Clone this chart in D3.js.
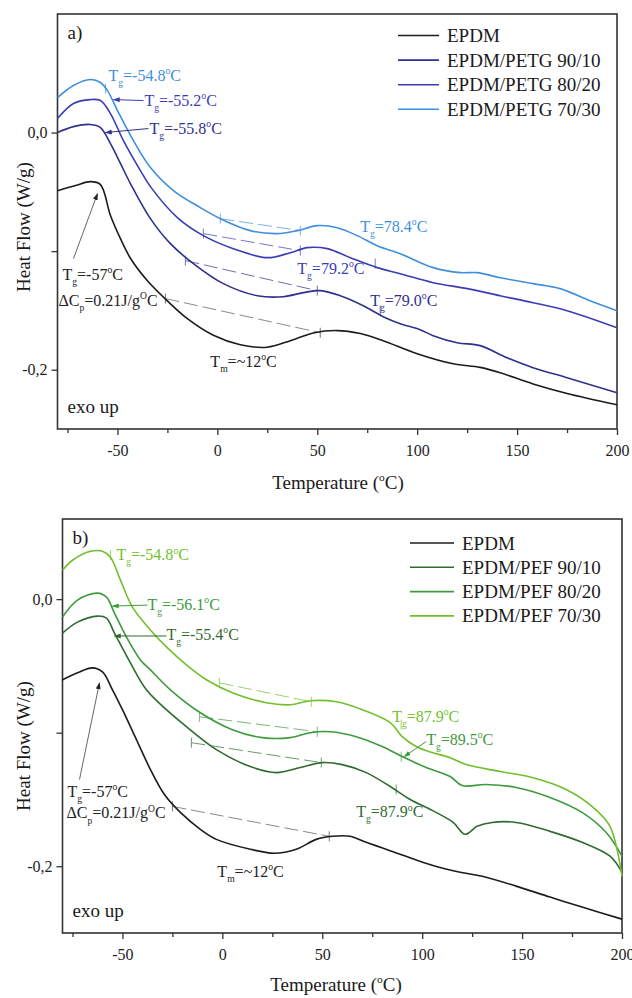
<!DOCTYPE html>
<html lang="en">
<head>
<meta charset="UTF-8">
<title>DSC EPDM blends</title>
<script src="https://cdn.jsdelivr.net/npm/d3@7"></script>
<style>
    body { margin: 0; background: #fff; }
    text { font-family: "Liberation Serif", "Times New Roman", serif; }
</style>
</head>
<body>
<svg width="632" height="998"></svg>
<script>
// axis ticks
const xTicks = [-50, 0, 50, 100, 150, 200];
const xMinor = [-75, -25, 25, 75, 125, 175];
const yTicks = [-0.2, -0.1, 0.0];
const yLabeled = [-0.2, 0.0];

// panel a) EPDM / PETG   [temperature °C, heat flow W/g]
const namesA = ["EPDM", "EPDM/PETG 90/10", "EPDM/PETG 80/20", "EPDM/PETG 70/30"];
const colorsA = ["#1c1c1c", "#30308f", "#3c3cb4", "#3f8fde"];
const epdmA = [[-80,-0.049],[-71,-0.0447],[-63.5,-0.0414],[-58.5,-0.0439],[-53.5,-0.070],[-48.5,-0.0895],[-43.5,-0.106],[-35,-0.125],[-25,-0.142],[-15,-0.157],[-2,-0.171],[11.5,-0.179],[25,-0.181],[36.5,-0.1755],[48,-0.169],[60,-0.167],[71.5,-0.1695],[83,-0.1755],[100,-0.1865],[118,-0.195],[131.5,-0.198],[141.5,-0.2025],[158,-0.212],[175,-0.220],[200,-0.2295]];
const petg9010 = [[-80,0],[-72,0.005],[-63.5,0.0068],[-58.5,0.0042],[-53.5,-0.0093],[-48.5,-0.026],[-43.5,-0.043],[-33.5,-0.0726],[-23.5,-0.0937],[-12,-0.1105],[3,-0.1274],[20,-0.1376],[33,-0.1384],[43,-0.135],[51.5,-0.1333],[61.5,-0.1376],[73,-0.146],[83,-0.1553],[91.5,-0.1612],[101.5,-0.1662],[108,-0.1713],[120,-0.1772],[131.5,-0.1797],[145,-0.19],[158,-0.1983],[175,-0.2068],[200,-0.2194]];
const petg8020 = [[-80,0.0118],[-72,0.0245],[-63.5,0.0278],[-58.5,0.027],[-53.5,0.016],[-47,-0.0068],[-38.5,-0.0321],[-33.5,-0.0456],[-20,-0.0717],[-7,-0.0869],[8,-0.0979],[25,-0.1055],[36.5,-0.1013],[45,-0.097],[55,-0.0979],[66.5,-0.1055],[80,-0.1139],[91.5,-0.119],[108,-0.1266],[125,-0.1316],[141.5,-0.1376],[158,-0.1435],[175,-0.1502],[200,-0.1646]];
const petg7030 = [[-80,0.0295],[-72,0.0397],[-63.5,0.0447],[-58.5,0.0422],[-55,0.0354],[-50,0.0186],[-42,-0.0068],[-33.5,-0.0295],[-22,-0.0489],[-8.5,-0.0633],[1.5,-0.0726],[16.5,-0.0827],[30,-0.0852],[40,-0.0827],[50,-0.0785],[60,-0.0802],[70,-0.0869],[80,-0.0954],[91.5,-0.1021],[108,-0.1139],[121.5,-0.1181],[130,-0.1181],[141.5,-0.1224],[158,-0.1274],[171.5,-0.1316],[186.5,-0.1418],[200,-0.1502]];

// panel b) EPDM / PEF
const namesB = ["EPDM", "EPDM/PEF 90/10", "EPDM/PEF 80/20", "EPDM/PEF 70/30"];
const colorsB = ["#1c1c1c", "#2f6b30", "#3e9a3c", "#72bf2e"];
const epdmB = [[-80,-0.0604],[-72.5,-0.0552],[-65,-0.0515],[-60,-0.0545],[-55,-0.0679],[-50,-0.0828],[-43,-0.1052],[-36,-0.1276],[-29,-0.1463],[-21,-0.1597],[-11,-0.1724],[-3,-0.1799],[14,-0.1873],[26,-0.1903],[37,-0.1873],[47,-0.1799],[55,-0.1776],[64,-0.1776],[72,-0.1821],[89,-0.191],[105,-0.1993],[119,-0.2045],[130,-0.2075],[147,-0.2149],[164,-0.2231],[180,-0.2306],[200,-0.2396]];
const pef9010 = [[-80,-0.0254],[-72.5,-0.0172],[-62.5,-0.0127],[-58,-0.0142],[-54,-0.0254],[-46,-0.0478],[-38,-0.0679],[-28,-0.0828],[-18,-0.0955],[-3,-0.1127],[14,-0.1254],[27,-0.1299],[39,-0.1261],[50,-0.1224],[60,-0.1239],[72,-0.1299],[84,-0.1403],[94,-0.15],[105,-0.1582],[115.5,-0.1672],[121.5,-0.1761],[127.5,-0.1701],[135,-0.1672],[147,-0.1672],[164,-0.1739],[180,-0.1821],[194,-0.1925],[200,-0.2045]];
const pef8020 = [[-80,-0.0134],[-72.5,-0.0007],[-62.5,0.0045],[-58,0.0015],[-54,-0.0104],[-48,-0.0284],[-41,-0.0455],[-36,-0.053],[-26,-0.0679],[-11,-0.0851],[5,-0.0978],[20,-0.1037],[34,-0.1037],[44,-0.1],[54,-0.0993],[67,-0.103],[80,-0.1104],[90,-0.1179],[102,-0.1261],[114,-0.1328],[120,-0.1396],[132,-0.1388],[147,-0.141],[164,-0.1485],[180,-0.1597],[192,-0.1746],[200,-0.1925]];
const pef7030 = [[-80,0.0216],[-75,0.0291],[-66,0.0358],[-60,0.0358],[-56,0.0313],[-51,0.0142],[-45,-0.006],[-36,-0.0231],[-28,-0.0358],[-18,-0.0493],[-8,-0.0604],[5,-0.0701],[22,-0.0776],[34,-0.0791],[44,-0.0761],[57,-0.0769],[70,-0.0828],[84,-0.0925],[90,-0.103],[97,-0.1104],[105,-0.1149],[114,-0.1187],[122,-0.1239],[139,-0.1291],[155,-0.1336],[172,-0.1425],[185,-0.1552],[194,-0.1701],[200,-0.2075]];

// annotations (s = series index), in data units
const tangentsA = [
    {s: 3, t1: 1.5, v1: -0.0726, t2: 41.5, v2: -0.0827},
    {s: 2, t1: -7, v1: -0.0852, t2: 41.5, v2: -0.0996},
    {s: 1, t1: -16, v1: -0.108, t2: 50, v2: -0.1333},
    {s: 0, t1: -26, v1: -0.140, t2: 51.5, v2: -0.1688}
];
const marksA = [{s: 2, t: 79, v: -0.1105}, {s: 1, t: 81.5, v: -0.150}, {s: 3, t: -56, v: 0.037}];
const labelsA = [
    {s: 3, t: -54.5, v: 0.0439, txt: "T_g=-54.8^oC"},
    {s: 2, t: -36.5, v: 0.0228, txt: "T_g=-55.2^oC"},
    {s: 1, t: -34, v: -0.0008, txt: "T_g=-55.8^oC"},
    {s: 0, t: -77.5, v: -0.124, txt: "T_g=-57^oC"},
    {s: 0, t: -79.5, v: -0.146, txt: "ΔC_p=0.21J/g^OC"},
    {s: 0, t: -3.5, v: -0.1975, txt: "T_m=~12^oC"},
    {s: 3, t: 71.5, v: -0.0835, txt: "T_g=78.4^oC"},
    {s: 2, t: 40, v: -0.119, txt: "T_g=79.2^oC"},
    {s: 1, t: 76.5, v: -0.146, txt: "T_g=79.0^oC"}
];
const arrowsA = [
    {s: 2, t1: -37, v1: 0.027, t2: -52, v2: 0.0278},
    {s: 1, t1: -34.5, v1: 0.0034, t2: -56, v2: 0},
    {s: 0, t1: -72, v1: -0.1063, t2: -60, v2: -0.0515}
];

const tangentsB = [
    {s: 3, t1: -1.5, v1: -0.0627, t2: 44.5, v2: -0.0769},
    {s: 2, t1: -11.5, v1: -0.0881, t2: 47.5, v2: -0.0993},
    {s: 1, t1: -15.5, v1: -0.1075, t2: 49.5, v2: -0.1224},
    {s: 0, t1: -25, v1: -0.1552, t2: 53.5, v2: -0.1776}
];
const marksB = [{s: 3, t: 89.5, v: -0.094}, {s: 2, t: 89.5, v: -0.118}, {s: 1, t: 87, v: -0.1425}, {s: 3, t: -56, v: 0.033}];
const labelsB = [
    {s: 3, t: -53, v: 0.0291, txt: "T_g=-54.8^oC"},
    {s: 2, t: -37.5, v: -0.0082, txt: "T_g=-56.1^oC"},
    {s: 1, t: -28, v: -0.0306, txt: "T_g=-55.4^oC"},
    {s: 0, t: -77.5, v: -0.1478, txt: "T_g=-57^oC"},
    {s: 0, t: -78, v: -0.1642, txt: "ΔC_p=0.21J/g^OC"},
    {s: 0, t: -2.5, v: -0.2082, txt: "T_m=~12^oC"},
    {s: 3, t: 85, v: -0.0918, txt: "T_g=87.9^oC"},
    {s: 2, t: 102, v: -0.109, txt: "T_g=89.5^oC"},
    {s: 1, t: 67, v: -0.1634, txt: "T_g=87.9^oC"}
];
const arrowsB = [
    {s: 2, t1: -37.5, v1: -0.0045, t2: -55, v2: -0.0052},
    {s: 1, t1: -28, v1: -0.0276, t2: -54, v2: -0.0276},
    {s: 0, t1: -71.5, v1: -0.1351, t2: -61.5, v2: -0.0627},
    {s: 2, t1: 102, v1: -0.1067, t2: 91, v2: -0.1179}
];

const svg = d3.select("svg");

const defs = svg.append("defs");
function arrowId(color) {
    const id = "ah" + color.replace("#", "");
    if (defs.select("#" + id).empty()) {
        defs.append("marker").attr("id", id)
            .attr("viewBox", "0 0 10 10").attr("refX", 9).attr("refY", 5)
            .attr("markerWidth", 7).attr("markerHeight", 7).attr("orient", "auto-start-reverse")
            .attr("markerUnits", "userSpaceOnUse")
            .append("path").attr("d", "M0,1.5L10,5L0,8.5z").attr("fill", color);
    }
    return "url(#" + id + ")";
}

// "_x" lowers one char, "^x" raises one char
function rich(text, str, size) {
    const segs = [];
    let buf = "";
    for (let i = 0; i < str.length; i++) {
        const c = str[i];
        if (c === "_" || c === "^") {
            if (buf) segs.push({s: buf, k: 0});
            buf = "";
            segs.push({s: str[++i], k: c === "_" ? 1 : -1});
        } else buf += c;
    }
    if (buf) segs.push({s: buf, k: 0});
    let prev = 0;
    segs.forEach(g => {
        const off = g.k === 1 ? size * 0.32 : g.k === -1 ? -size * 0.42 : 0;
        text.append("tspan").attr("dy", off - prev)
            .attr("font-size", g.k ? size * 0.6 : size).text(g.s);
        prev = off;
    });
}

function lighten(c) {
    return d3.interpolateRgb(c, "#ffffff")(0.3);
}

function drawPanel(p) {
    const x = d3.scaleLinear().domain([-80, 200]).range([p.left, p.right]);
    const y = d3.scaleLinear().domain(p.yDomain).range([p.bottom, p.top]);
    const g = svg.append("g");

    // minor x ticks
    g.append("g").attr("transform", `translate(0,${p.bottom})`)
        .call(d3.axisBottom(x).tickValues(xMinor).tickSize(4).tickFormat(""))
        .call(a => a.select(".domain").remove());
    // major x ticks
    g.append("g").attr("transform", `translate(0,${p.bottom})`)
        .call(d3.axisBottom(x).tickValues(xTicks).tickSize(6).tickPadding(10).tickFormat(d => String(d)))
        .call(a => a.select(".domain").remove())
        .call(a => a.selectAll("text").attr("font-family", "Liberation Serif, serif").attr("font-size", 16).attr("fill", "#222"));
    g.append("g").attr("transform", `translate(${p.left},0)`)
        .call(d3.axisLeft(y).tickValues(yTicks).tickSize(6).tickPadding(4)
            .tickFormat(d => yLabeled.some(v => Math.abs(v - d) < 1e-9) ? d.toFixed(1).replace(".", ",") : ""))
        .call(a => a.select(".domain").remove())
        .call(a => a.selectAll("text").attr("font-family", "Liberation Serif, serif").attr("font-size", 16).attr("fill", "#222"));
    g.selectAll(".tick line").attr("stroke", "#333").attr("stroke-width", 1.3);

    g.append("rect").attr("x", p.left).attr("y", p.top)
        .attr("width", p.right - p.left).attr("height", p.bottom - p.top)
        .attr("fill", "none").attr("stroke", "#333").attr("stroke-width", 1.6);

    // tangent constructions
    g.selectAll(".tan").data(p.tangents).join("line")
        .attr("x1", d => x(d.t1)).attr("y1", d => y(d.v1))
        .attr("x2", d => x(d.t2)).attr("y2", d => y(d.v2))
        .attr("stroke", d => d.s === 0 ? "#8a8a8a" : lighten(p.colors[d.s]))
        .attr("stroke-width", 1).attr("stroke-dasharray", "14,5");
    const ends = p.tangents.flatMap(d => [{s: d.s, t: d.t1, v: d.v1}, {s: d.s, t: d.t2, v: d.v2}]).concat(p.marks);
    g.selectAll(".endtick").data(ends).join("line")
        .attr("x1", d => x(d.t)).attr("x2", d => x(d.t))
        .attr("y1", d => y(d.v) - 5).attr("y2", d => y(d.v) + 5)
        .attr("stroke", d => d.s === 0 ? "#777" : lighten(p.colors[d.s]))
        .attr("stroke-width", 1);

    // curves
    const line = d3.line().x(d => x(d[0])).y(d => y(d[1])).curve(d3.curveCatmullRom.alpha(0.5));
    g.selectAll(".curve").data(p.series).join("path")
        .attr("d", line).attr("fill", "none")
        .attr("stroke", (d, i) => p.colors[i]).attr("stroke-width", 1.6);

    // arrows
    g.selectAll(".arrow").data(p.arrows).join("line")
        .attr("x1", d => x(d.t1)).attr("y1", d => y(d.v1))
        .attr("x2", d => x(d.t2)).attr("y2", d => y(d.v2))
        .attr("stroke", d => d.s === 0 ? "#666" : p.colors[d.s]).attr("stroke-width", 1)
        .attr("marker-end", d => arrowId(d.s === 0 ? "#222" : p.colors[d.s]));

    // labels
    p.labels.forEach(d => {
        const t = g.append("text").attr("x", x(d.t)).attr("y", y(d.v))
            .attr("fill", d.s === 0 ? "#222" : p.colors[d.s]).attr("font-size", 16);
        rich(t, d.txt, 16);
    });

    // legend
    const lg = g.append("g");
    p.names.forEach((n, i) => {
        const ly = p.legY + i * p.legStep;
        lg.append("line").attr("x1", p.legX).attr("x2", p.legX + p.legLen)
            .attr("y1", ly).attr("y2", ly).attr("stroke", p.colors[i]).attr("stroke-width", 1.6);
        lg.append("text").attr("x", p.legX + p.legLen + 8).attr("y", ly + 6.5)
            .attr("font-size", 19).attr("fill", "#1a1a1a").text(n);
    });

    g.append("text").attr("x", p.left + 10).attr("y", p.top + 25)
        .attr("font-size", 19).attr("fill", "#1a1a1a").text(p.tag);
    g.append("text").attr("x", p.left + 10).attr("y", p.bottom - 16)
        .attr("font-size", 19).attr("fill", "#1a1a1a").text("exo up");

    const xt = g.append("text").attr("x", p.xTitleX).attr("y", p.xTitleY)
        .attr("text-anchor", "middle").attr("font-size", 19).attr("fill", "#1a1a1a");
    rich(xt, "Temperature (^oC)", 19);
    g.append("text").attr("transform", `translate(30,${p.yTitleY}) rotate(-90)`)
        .attr("text-anchor", "middle").attr("font-size", 19).attr("fill", "#1a1a1a")
        .text("Heat Flow (W/g)");
}

drawPanel({
    left: 57.5, right: 617, top: 14, bottom: 429, yDomain: [-0.25, 0.1],
    series: [epdmA, petg9010, petg8020, petg7030], colors: colorsA, names: namesA,
    tangents: tangentsA, marks: marksA, labels: labelsA, arrows: arrowsA,
    legX: 398, legLen: 41, legY: 35.5, legStep: 24.6,
    tag: "a)", xTitleX: 338, xTitleY: 489, yTitleY: 227
});
drawPanel({
    left: 62.5, right: 622, top: 519, bottom: 933, yDomain: [-0.25, 0.06],
    series: [epdmB, pef9010, pef8020, pef7030], colors: colorsB, names: namesB,
    tangents: tangentsB, marks: marksB, labels: labelsB, arrows: arrowsB,
    legX: 410, legLen: 44, legY: 543, legStep: 24.3,
    tag: "b)", xTitleX: 336, xTitleY: 991, yTitleY: 746
});
</script>
</body>
</html>
